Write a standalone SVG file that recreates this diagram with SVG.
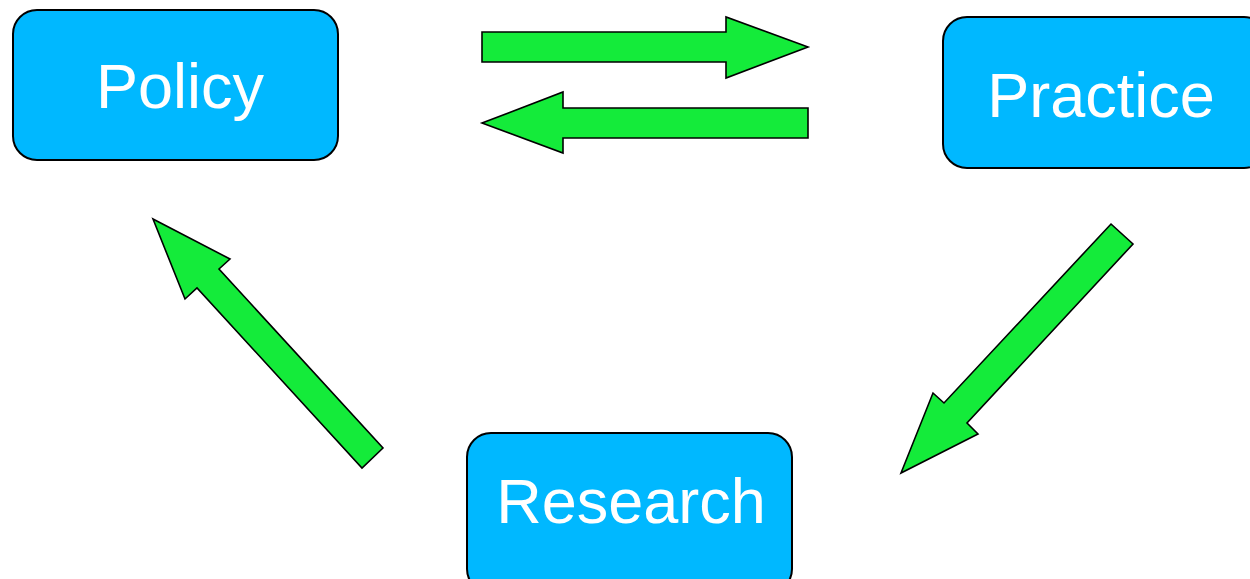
<svg xmlns="http://www.w3.org/2000/svg" width="1250" height="579" viewBox="0 0 1250 579">
<style>
.box{fill:#00B8FF;stroke:#000;stroke-width:2}
.lbl{font-family:"Liberation Sans",Arial,sans-serif;font-size:63px;fill:#fff;text-anchor:middle}
.arr{fill:#14EB3A;stroke:#000;stroke-width:1.6;stroke-linejoin:miter}
</style>
<rect width="1250" height="579" fill="#fff"/>
<g id="policy"><rect class="box" x="13" y="10" width="325" height="150" rx="24"/><text class="lbl" x="180" y="108">Policy</text></g>
<g id="practice"><rect class="box" x="943" y="17" width="325" height="151" rx="24"/><text class="lbl" x="1101" y="117">Practice</text></g>
<g id="research"><rect class="box" x="467" y="433" width="325" height="160" rx="24"/><text class="lbl" x="631" y="523">Research</text></g>
<g id="connectors">
<polygon class="arr" points="482,32 726,32 726,17 808,47 726,78 726,62 482,62"/>
<polygon class="arr" points="808,108 563,108 563,92 482,123 563,153 563,138 808,138"/>
<polygon class="arr" points="1111,224 1133,244 967,423 978,434 901,473 933,393 944,403"/>
<polygon class="arr" points="383,448 362,468 197,288 185,299 153,219 230,259 219,269"/>
</g>
</svg>
